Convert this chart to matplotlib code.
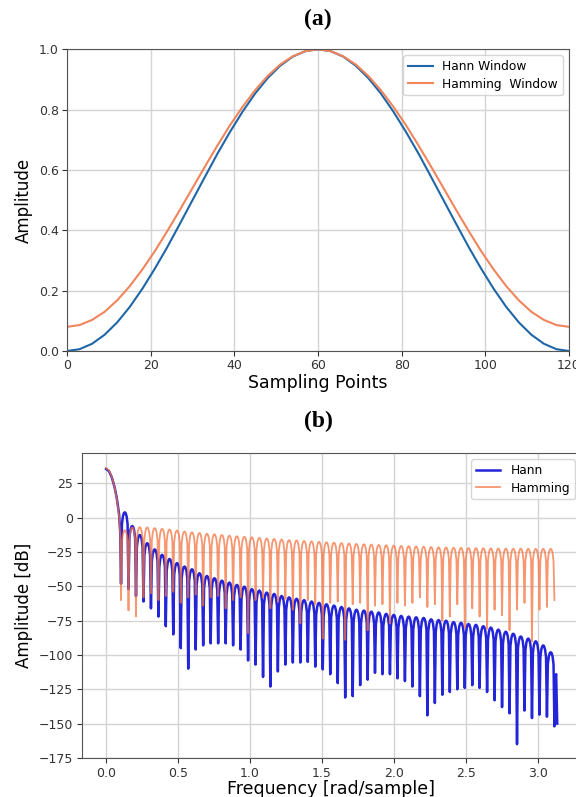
import matplotlib
matplotlib.use('Agg')
import matplotlib.pyplot as plt

## Panel (a): window values (every 3 samples)
n_pts = [0, 3, 6, 9, 12, 15, 18, 21, 24, 27, 30, 33, 36, 39, 42, 45, 48, 51, 54, 57, 60,
         63, 66, 69, 72, 75, 78, 81, 84, 87, 90, 93, 96, 99, 102, 105, 108, 111, 114, 117, 120]
hann_win = [0.0, 0.006, 0.024, 0.054, 0.095, 0.146, 0.206, 0.273, 0.345, 0.422, 0.5,
            0.578, 0.655, 0.727, 0.794, 0.854, 0.905, 0.946, 0.976, 0.994, 1.0,
            0.994, 0.976, 0.946, 0.905, 0.854, 0.794, 0.727, 0.655, 0.578, 0.5,
            0.422, 0.345, 0.273, 0.206, 0.146, 0.095, 0.054, 0.024, 0.006, 0.0]
hamm_win = [0.08, 0.086, 0.103, 0.13, 0.168, 0.215, 0.27, 0.331, 0.398, 0.468, 0.54,
            0.612, 0.682, 0.749, 0.81, 0.865, 0.912, 0.95, 0.977, 0.994, 1.0,
            0.994, 0.977, 0.95, 0.912, 0.865, 0.81, 0.749, 0.682, 0.612, 0.54,
            0.468, 0.398, 0.331, 0.27, 0.215, 0.168, 0.13, 0.103, 0.086, 0.08]

## Panel (b): spectrum
# main lobe
main_f = [0.0, 0.02, 0.04, 0.06, 0.075, 0.09, 0.098]
hann_main_db = [35.6, 34.0, 29.5, 22.0, 14.0, 3.0, -10.0]
hamm_main_db = [36.2, 34.5, 30.0, 22.0, 13.5, 1.5, -12.0]

# null positions (shared by both windows)
null_f = [0.104, 0.156, 0.208, 0.260, 0.312, 0.364, 0.415, 0.467, 0.519, 0.571,
          0.623, 0.675, 0.727, 0.779, 0.831, 0.883, 0.935, 0.987, 1.039, 1.091,
          1.142, 1.194, 1.246, 1.298, 1.350, 1.402, 1.454, 1.506, 1.558, 1.610,
          1.662, 1.714, 1.766, 1.818, 1.869, 1.921, 1.973, 2.025, 2.077, 2.129,
          2.181, 2.233, 2.285, 2.337, 2.389, 2.441, 2.493, 2.545, 2.596, 2.648,
          2.700, 2.752, 2.804, 2.856, 2.908, 2.960, 3.012, 3.064, 3.116]

hann_null_db = [-48, -52, -57, -61, -66, -72, -79, -85, -95, -110,
                -96, -93, -91.5, -91.5, -91.5, -93, -96, -104, -107, -116,
                -123, -112, -107, -105.5, -105.5, -105, -108.5, -110.5, -114, -120.5,
                -131, -130, -122, -118, -113, -114, -114, -117, -119, -123,
                -130, -144, -135, -129, -127, -125, -124, -122, -124, -127,
                -133, -138, -142.5, -165, -140.5, -146, -143.5, -145, -152]
hann_peak_db = [4, -6, -12.5, -18.5, -23, -27, -30, -33, -35.5, -37.5,
                -40.4, -42.4, -44, -45.8, -47.2, -48.9, -50.2, -52, -53, -54.5,
                -55.5, -57, -58, -59, -60, -61, -62, -63, -64, -65,
                -66, -67, -67.6, -68.4, -69, -70, -70.8, -71.5, -72, -72.5,
                -73, -74, -74.5, -75, -76, -76.5, -77.4, -78, -79, -80,
                -81.5, -83, -84.5, -86.5, -88, -90, -93, -98]
hann_tail_f = [3.122, 3.128, 3.1355]
hann_tail_db = [-117, -114, -150]

hamm_null_db = [-60, -67.5, -72, -58, -55, -60, -57, -54, -62, -58,
                -56, -64, -58, -57, -66, -60, -58, -84, -60, -58,
                -66, -61, -59, -67, -77, -60, -63, -88, -62, -61,
                -89, -63, -62, -82, -64, -63, -77, -62, -64, -62,
                -58, -65, -63, -75, -72, -63, -80, -66, -72, -81,
                -67, -71, -82, -67, -62, -90, -67, -65, -60]
hamm_peak_db = [-9, -7, -6.8, -7, -7.5, -8, -8.5, -9.2, -10, -10.6,
                -11.1, -11.6, -12, -12.5, -13, -13.4, -13.8, -14.2, -14.6, -15,
                -15.4, -15.8, -16.2, -16.5, -16.9, -17.2, -17.5, -17.8, -18.1, -18.4,
                -18.7, -19, -19.3, -19.5, -19.8, -20, -20.3, -20.5, -20.7, -20.9,
                -21.1, -21.3, -21.5, -21.6, -21.8, -21.9, -22, -22.1, -22.2, -22.3,
                -22.4, -22.4, -22.5, -22.5, -22.6, -22.6, -22.6, -22.6]

# shape of one side lobe: (fraction of lobe width, dB below lobe peak)
LOBE_SHAPE = [(0.12, 8.7), (0.25, 3.0), (0.38, 0.6), (0.5, 0.0),
              (0.62, 0.6), (0.75, 3.0), (0.88, 8.7)]


def lobe_line(main_db, null_db, peak_db, tail_f=(), tail_db=()):
    xs = list(main_f)
    ys = list(main_db)
    for i, pk in enumerate(peak_db):
        x0, x1 = null_f[i], null_f[i + 1]
        xs.append(x0)
        ys.append(null_db[i])
        for frac, drop in LOBE_SHAPE:
            xs.append(x0 + frac * (x1 - x0))
            ys.append(pk - drop)
    xs.append(null_f[-1])
    ys.append(null_db[-1])
    xs += list(tail_f)
    ys += list(tail_db)
    return xs, ys


W, H = 576, 797
fig = plt.figure(figsize=(W / 100, H / 100), dpi=100)
plt.rcParams['font.family'] = 'DejaVu Sans'

grid_kw = dict(color='#d4d4d4', linewidth=1.0)
spine_col = '#555555'

## ---- (a)
ax1 = fig.add_axes([67 / W, 1 - 351 / H, (569 - 67) / W, (351 - 49.3) / H])
ax1.plot(n_pts, hann_win, color='#1f66a8', lw=1.5, label='Hann Window')
ax1.plot(n_pts, hamm_win, color='#f0855c', lw=1.5, label='Hamming  Window')
ax1.set_xlim(0, 120)
ax1.set_ylim(0, 1.0)
ax1.set_xticks([0, 20, 40, 60, 80, 100, 120])
ax1.set_yticks([0.0, 0.2, 0.4, 0.6, 0.8, 1.0])
ax1.grid(True, **grid_kw)
ax1.set_xlabel('Sampling Points', fontsize=12.5, labelpad=1)
ax1.set_ylabel('Amplitude', fontsize=12, labelpad=4)
ax1.legend(loc='upper right', fontsize=8.8, handlelength=2.0, labelspacing=0.35)
fig.text(318 / W, 1 - 19 / H, '(a)', ha='center', va='center',
         fontsize=17, fontweight='bold', family='Liberation Serif')

## ---- (b)
ax2 = fig.add_axes([81.6 / W, 1 - 758.3 / H, 499.3 / W, (758.3 - 453.3) / H])
hx, hy = lobe_line(hann_main_db, hann_null_db, hann_peak_db, hann_tail_f, hann_tail_db)
mx, my = lobe_line(hamm_main_db, hamm_null_db, hamm_peak_db)
ax2.plot(hx, hy, color='#2424d8', lw=1.8, label='Hann')
ax2.plot(mx, my, color='#f5733f', lw=1.3, alpha=0.75, label='Hamming')
ax2.set_xlim(-0.17, 3.30)
ax2.set_ylim(-175.3, 47)
ax2.set_xticks([0.0, 0.5, 1.0, 1.5, 2.0, 2.5, 3.0])
ax2.set_yticks([25, 0, -25, -50, -75, -100, -125, -150, -175])
ax2.grid(True, **grid_kw)
ax2.set_xlabel('Frequency [rad/sample]', fontsize=12.5, labelpad=0)
ax2.set_ylabel('Amplitude [dB]', fontsize=12, labelpad=4)
ax2.legend(loc='upper right', fontsize=8.8, handlelength=2.0, labelspacing=0.35)
fig.text(318 / W, 1 - 421 / H, '(b)', ha='center', va='center',
         fontsize=17, fontweight='bold', family='Liberation Serif')

for ax in (ax1, ax2):
    ax.set_axisbelow(True)
    ax.tick_params(labelsize=9, colors='#333333', pad=2.5)
    for s in ax.spines.values():
        s.set_color(spine_col)

fig.savefig('out.png', dpi=100)
